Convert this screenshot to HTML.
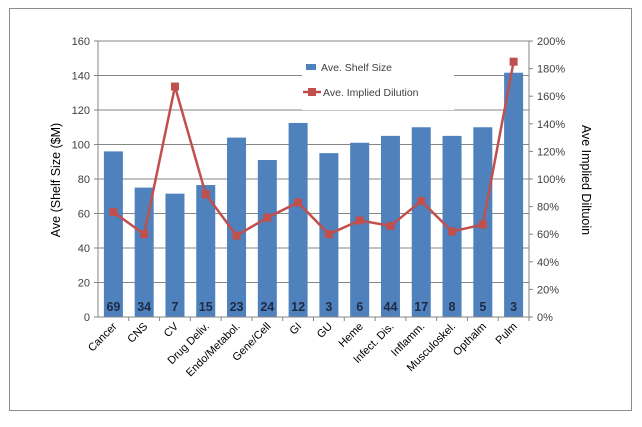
<!DOCTYPE html>
<html><head><meta charset="utf-8"><style>
body{margin:0;background:#fff;}
svg text{font-family:"Liberation Sans",sans-serif;}
</style></head><body>
<svg id="chart" width="642" height="422" viewBox="0 0 642 422">
<rect x="9.5" y="8.5" width="622" height="402" fill="#fff" stroke="#8c8c8c"/>
<g id="grid"></g><g id="bars"></g><g id="line"></g><g id="axes"></g>
<g>
<rect x="302" y="56" width="152" height="54" fill="#fff"/>
<rect x="306" y="64" width="10" height="6" fill="#4f81bd"/>
<text x="321" y="71" font-size="10.5" fill="#404040">Ave. Shelf Size</text>
<line x1="303" y1="92" x2="321" y2="92" stroke="#c0504d" stroke-width="2.5"/>
<rect x="308" y="88" width="8" height="8" fill="#c0504d"/>
<text x="323" y="96" font-size="10.5" fill="#404040">Ave. Implied Dilution</text>
</g>
<text transform="translate(60,180) rotate(-90)" text-anchor="middle" font-size="12.5" fill="#000">Ave (Shelf Size ($M)</text>
<text transform="translate(582,180) rotate(90)" text-anchor="middle" font-size="12.5" fill="#000">Ave Implied Diltuoin</text>
</svg>
<script>
const categories=["Cancer","CNS","CV","Drug Deliv.","Endo/Metabol.","Gene/Cell","GI","GU","Heme","Infect. Dis.","Inflamm.","Musculoskel.","Opthalm","Pulm"];
const shelfSize=[96,75,71.5,76.5,104,91,112.5,95,101,105,110,105,110,141.6];
const dilution=[76,60,167,89,59,72,83,60,70,66,84,62,67,185];
const counts=[69,34,7,15,23,24,12,3,6,44,17,8,5,3];
const leftTicks=[0,20,40,60,80,100,120,140,160];
const rightTicks=[0,20,40,60,80,100,120,140,160,180,200];
const NS="http://www.w3.org/2000/svg";
const X0=98,X1=529,Y0=317,Y1=41;
const bw=(X1-X0)/categories.length;
const yL=v=>Y0-(v/160)*(Y0-Y1);
const yR=v=>Y0-(v/200)*(Y0-Y1);
const xc=i=>X0+bw*(i+0.5);
function mk(tag,attrs,parent,txt){const e=document.createElementNS(NS,tag);for(const k in attrs)e.setAttribute(k,attrs[k]);if(txt!==undefined)e.textContent=txt;document.getElementById(parent).appendChild(e);return e;}
leftTicks.forEach(t=>{
 if(t>0){const g=mk('line',{x1:X0,x2:X1,y1:yL(t),y2:yL(t),stroke:'#868686','stroke-width':1},'grid');
 
 }
 mk('line',{x1:X0-4,x2:X0,y1:yL(t),y2:yL(t),stroke:'#868686'},'axes');
 const l=mk('text',{x:X0-8,y:yL(t)+4,'text-anchor':'end','font-size':11,fill:'#404040'},'axes',t);
 
 
});
rightTicks.forEach(t=>{
 mk('line',{x1:X1,x2:X1+4,y1:yR(t),y2:yR(t),stroke:'#868686'},'axes');
 const l=mk('text',{x:X1+8,y:yR(t)+4,'font-size':11,fill:'#404040'},'axes',t+'%');
 
 
});
mk('line',{x1:X0,x2:X0,y1:Y1,y2:Y0,stroke:'#868686'},'axes');
mk('line',{x1:X1,x2:X1,y1:Y1,y2:Y0,stroke:'#868686'},'axes');
mk('line',{x1:X0,x2:X1,y1:Y0,y2:Y0,stroke:'#868686'},'axes');
categories.forEach((c,i)=>{
 const b=mk('rect',{x:xc(i)-9.5,y:yL(shelfSize[i]),width:19,height:Y0-yL(shelfSize[i]),fill:'#4f81bd'},'bars');
 
 
 const n=mk('text',{x:xc(i),y:Y0-6,'text-anchor':'middle','font-size':12.5,'font-weight':'bold',fill:'#1f2a44'},'bars',counts[i]);
 
 
 mk('line',{x1:X0+bw*(i+1),x2:X0+bw*(i+1),y1:Y0,y2:Y0+4,stroke:'#868686'},'axes');
 const cl=mk('text',{transform:`translate(${xc(i)+4},${Y0+10}) rotate(-45)`,'text-anchor':'end','font-size':11,fill:'#000'},'axes',c);
 
 
});
const pts=dilution.map((v,i)=>xc(i)+','+yR(v)).join(' ');
const pl=mk('polyline',{points:pts,fill:'none',stroke:'#c0504d','stroke-width':2.5},'line');


dilution.forEach((v,i)=>{
 const m=mk('rect',{x:xc(i)-4,y:yR(v)-4,width:8,height:8,fill:'#c0504d'},'line');
 
 
});
</script>
</body></html>
